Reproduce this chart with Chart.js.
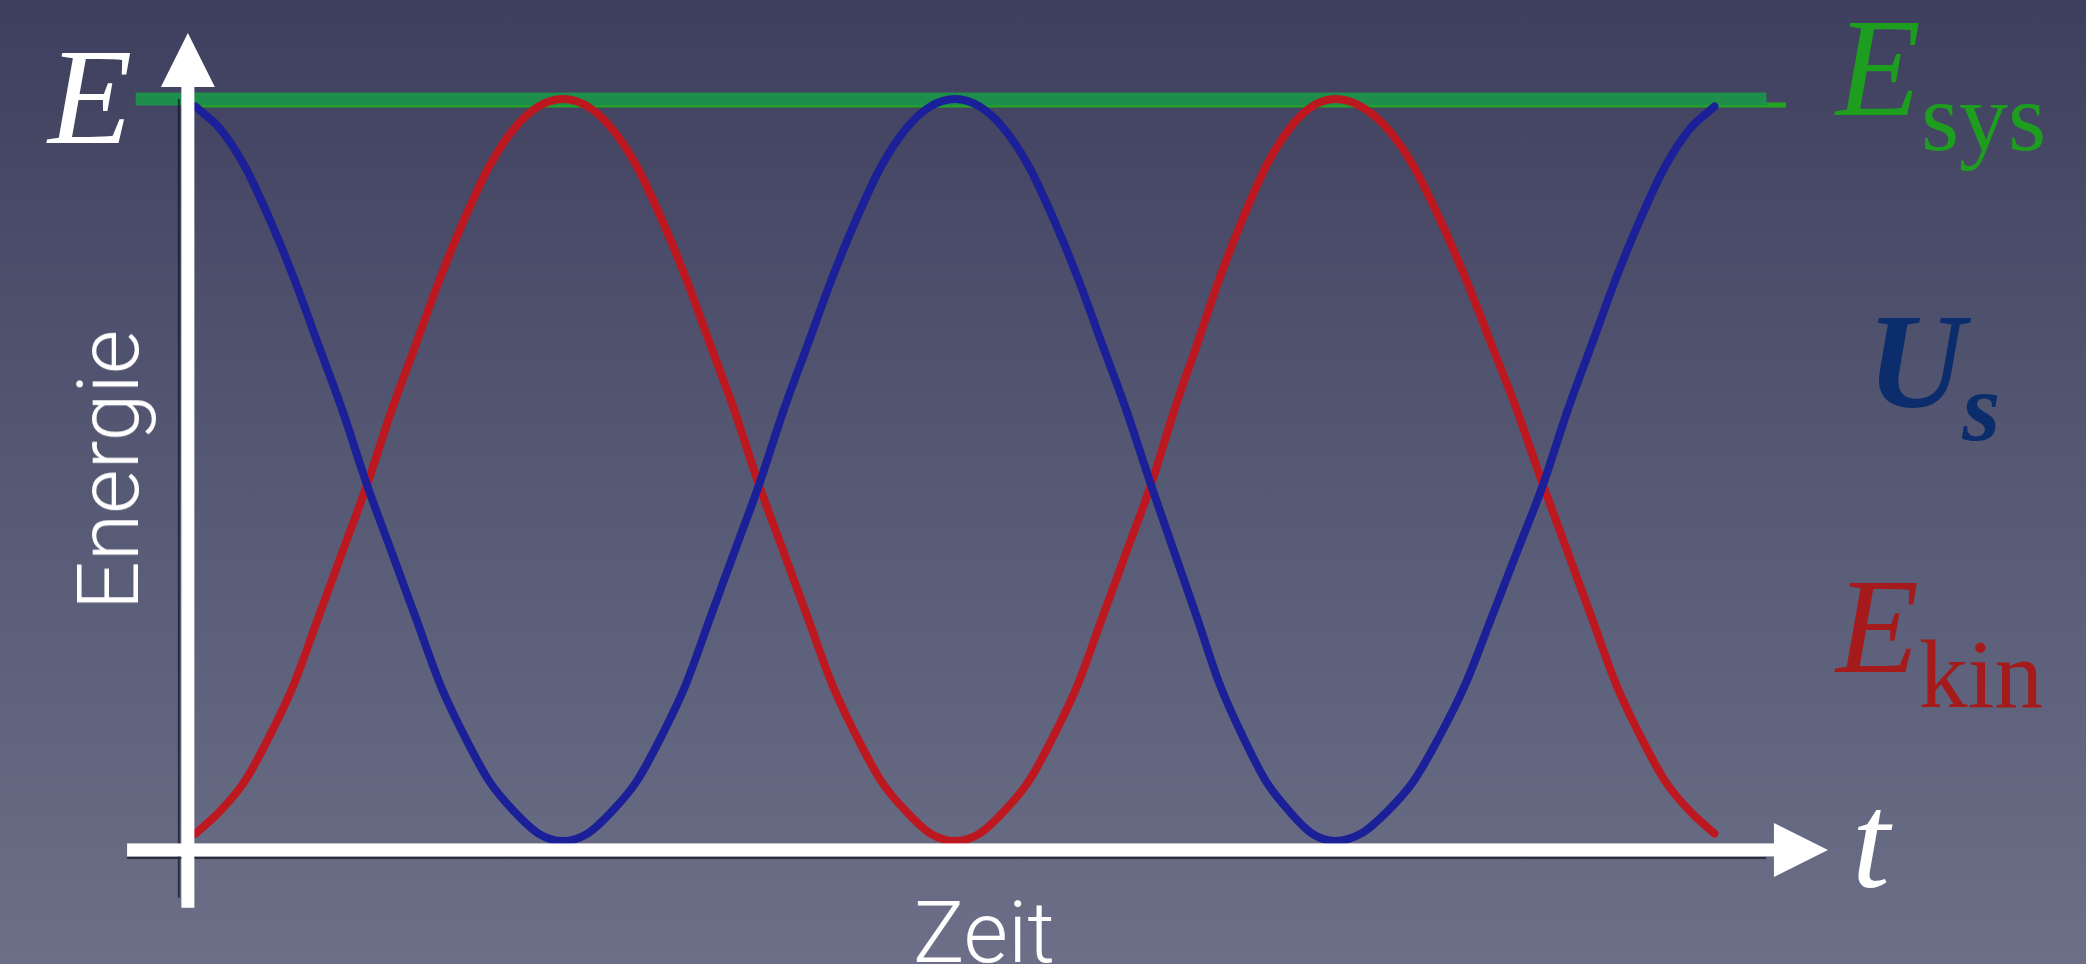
<!DOCTYPE html>
<html lang="de">
<head>
<meta charset="UTF-8" />
<title>Energie - Zeit</title>
<style>
  html, body { margin: 0; padding: 0; }
  body {
    width: 2086px; height: 964px; overflow: hidden; position: relative;
    background: linear-gradient(to bottom, #3e3f5e 0%, #565974 50%, #6c6f87 100%);
  }
  #chart { position: absolute; left: 0; top: 0; }
  .lbl {
    position: absolute; line-height: 1; white-space: nowrap;
    font-family: "Liberation Serif", "DejaVu Serif", serif;
  }
  .lbl i { font-style: italic; }
  .sub { position: relative; }
  .sans {
    position: absolute; line-height: 1; white-space: nowrap; color: #fff;
    font-family: Roboto, "Open Sans", sans-serif; font-weight: 300; font-size: 86px;
  }
</style>
</head>
<body>
<canvas id="chart" width="2086" height="964"></canvas>

<div class="lbl" style="left:48px; top:28px; font-size:138px; color:#fff"><i>E</i></div>
<div class="lbl" style="left:1852px; top:773px; font-size:136px; color:#fff"><i>t</i></div>

<div class="lbl" style="left:1836px; top:-1px; font-size:139px; color:#1e9e1e">
  <i>E</i><span class="sub" style="font-size:98px; top:35px">sys</span>
</div>
<div class="lbl" style="left:1867px; top:293px; font-size:136px; color:#0c2d6b; font-weight:bold">
  <i>U</i><i class="sub" style="font-size:98px; top:33px; left:-3px">s</i>
</div>
<div class="lbl" style="left:1836px; top:558px; font-size:136px; color:#a51b1b">
  <i>E</i><span class="sub" style="font-size:97px; top:35px">kin</span>
</div>

<div class="sans" style="left:109px; top:470px; transform: translate(-50%, -50%) rotate(-90deg)">Energie</div>
<div class="sans" style="left:984px; top:890px; transform: translateX(-50%)">Zeit</div>

<script src="https://cdn.jsdelivr.net/npm/chart.js"></script>
<script>
  // readings from the picture: time in quarter-periods, energy as a fraction of E_sys
  const times = [
    0.0625, 0.125, 0.1875, 0.25, 0.3125, 0.375, 0.4375, 0.5,
    0.5625, 0.625, 0.6875, 0.75, 0.8125, 0.875, 0.9375, 1,
    1.0625, 1.125, 1.1875, 1.25, 1.3125, 1.375, 1.4375, 1.5,
    1.5625, 1.625, 1.6875, 1.75, 1.8125, 1.875, 1.9375, 2,
    2.0625, 2.125, 2.1875, 2.25, 2.3125, 2.375, 2.4375, 2.5,
    2.559, 2.618, 2.676, 2.735, 2.794, 2.853, 2.911, 2.97,
    3.036, 3.103, 3.169, 3.235, 3.301, 3.368, 3.434, 3.5,
    3.5625, 3.625, 3.6875, 3.75, 3.8125, 3.875, 3.9375,
  ];
  const springEnergy = [
    0.99, 0.96, 0.91, 0.84, 0.76, 0.67, 0.58, 0.48,
    0.39, 0.3, 0.21, 0.14, 0.08, 0.04, 0.01, 0,
    0.01, 0.04, 0.08, 0.14, 0.21, 0.3, 0.39, 0.48,
    0.58, 0.67, 0.76, 0.84, 0.91, 0.96, 0.99, 1,
    0.99, 0.96, 0.91, 0.84, 0.76, 0.67, 0.58, 0.48,
    0.39, 0.3, 0.21, 0.14, 0.08, 0.04, 0.01, 0,
    0.01, 0.04, 0.08, 0.14, 0.21, 0.3, 0.39, 0.48,
    0.58, 0.67, 0.76, 0.84, 0.91, 0.96, 0.99,
  ];
  const kineticEnergy = [
    0.01, 0.04, 0.08, 0.14, 0.21, 0.3, 0.39, 0.48,
    0.58, 0.67, 0.76, 0.84, 0.91, 0.96, 0.99, 1,
    0.99, 0.96, 0.91, 0.84, 0.76, 0.67, 0.58, 0.48,
    0.39, 0.3, 0.21, 0.14, 0.08, 0.04, 0.01, 0,
    0.01, 0.04, 0.08, 0.14, 0.21, 0.3, 0.39, 0.48,
    0.58, 0.67, 0.76, 0.84, 0.91, 0.96, 0.99, 1,
    0.99, 0.96, 0.91, 0.84, 0.76, 0.67, 0.58, 0.48,
    0.39, 0.3, 0.21, 0.14, 0.08, 0.04, 0.01,
  ];
  const systemTimes = [-0.09, 4.07];
  const systemEnergy = [1, 1];
  const systemEdgeTimes = [0.06, 4.12];
  const systemEdgeEnergy = [0.992, 0.992];

  // where the drawn axes sit, in data units
  const eAxisAt = 0.043;
  const eAxisFrom = -0.09, eAxisTo = 1.089;
  const tAxisAt = -0.012;
  const tAxisFrom = -0.112, tAxisTo = 4.227;

  const toPoints = (xs, ys) => xs.map((t, i) => ({ x: t, y: ys[i] }));

  const lineStyle = {
    pointRadius: 0,
    fill: false,
    clip: false,
    borderCapStyle: "round",
    borderJoinStyle: "round",
    cubicInterpolationMode: "monotone",
  };

  const axisArrows = {
    id: "axisArrows",
    afterDatasetsDraw(chart) {
      const { ctx } = chart;
      const xs = chart.scales.x;
      const ys = chart.scales.y;
      const ax = xs.getPixelForValue(eAxisAt);
      const ay = ys.getPixelForValue(tAxisAt);
      const yTop = ys.getPixelForValue(eAxisTo);
      const yBot = ys.getPixelForValue(eAxisFrom);
      const xLeft = xs.getPixelForValue(tAxisFrom);
      const xTip = xs.getPixelForValue(tAxisTo);
      const bar = 13;
      const head = 54;

      ctx.save();
      // thin dark lines of the original plot frame peeking out
      ctx.strokeStyle = "rgba(18, 18, 30, 0.7)";
      ctx.lineWidth = 2;
      ctx.beginPath();
      ctx.moveTo(ax - 9, ys.getPixelForValue(1));
      ctx.lineTo(ax - 9, yBot - 10);
      ctx.moveTo(xLeft, ay + 8);
      ctx.lineTo(xTip - 62, ay + 8);
      ctx.stroke();

      ctx.fillStyle = "#ffffff";
      // vertical axis
      ctx.fillRect(ax - bar / 2, yTop + head - 1, bar, yBot - yTop - head + 1);
      ctx.beginPath();
      ctx.moveTo(ax, yTop);
      ctx.lineTo(ax + head / 2, yTop + head);
      ctx.lineTo(ax - head / 2, yTop + head);
      ctx.closePath();
      ctx.fill();
      // horizontal axis
      ctx.fillRect(xLeft, ay - bar / 2, xTip - head - xLeft + 1, bar);
      ctx.beginPath();
      ctx.moveTo(xTip, ay);
      ctx.lineTo(xTip - head, ay - head / 2);
      ctx.lineTo(xTip - head, ay + head / 2);
      ctx.closePath();
      ctx.fill();
      ctx.restore();
    },
  };

  new Chart(document.getElementById("chart"), {
    type: "line",
    data: {
      datasets: [
        {
          label: "U_s",
          data: toPoints(times, springEnergy),
          borderColor: "#1b1f98",
          borderWidth: 8,
          ...lineStyle,
        },
        {
          label: "E_kin",
          data: toPoints(times, kineticEnergy),
          borderColor: "#bd1820",
          borderWidth: 8,
          ...lineStyle,
        },
        {
          label: "E_sys",
          data: toPoints(systemTimes, systemEnergy),
          borderColor: "#1f8e4c",
          borderWidth: 13,
          ...lineStyle,
          borderCapStyle: "butt",
        },
        {
          label: "E_sys edge",
          data: toPoints(systemEdgeTimes, systemEdgeEnergy),
          borderColor: "#22a622",
          borderWidth: 5,
          ...lineStyle,
          borderCapStyle: "butt",
        },
      ],
    },
    options: {
      responsive: false,
      animation: false,
      devicePixelRatio: 1,
      events: [],
      layout: { padding: { left: 130, right: 240, top: 30, bottom: 60 } },
      plugins: { legend: { display: false }, tooltip: { enabled: false } },
      scales: {
        x: { type: "linear", min: -0.1046, max: 4.273, display: false },
        y: { type: "linear", min: -0.0849, max: 1.093, display: false },
      },
    },
    plugins: [axisArrows],
  });
</script>
</body>
</html>
